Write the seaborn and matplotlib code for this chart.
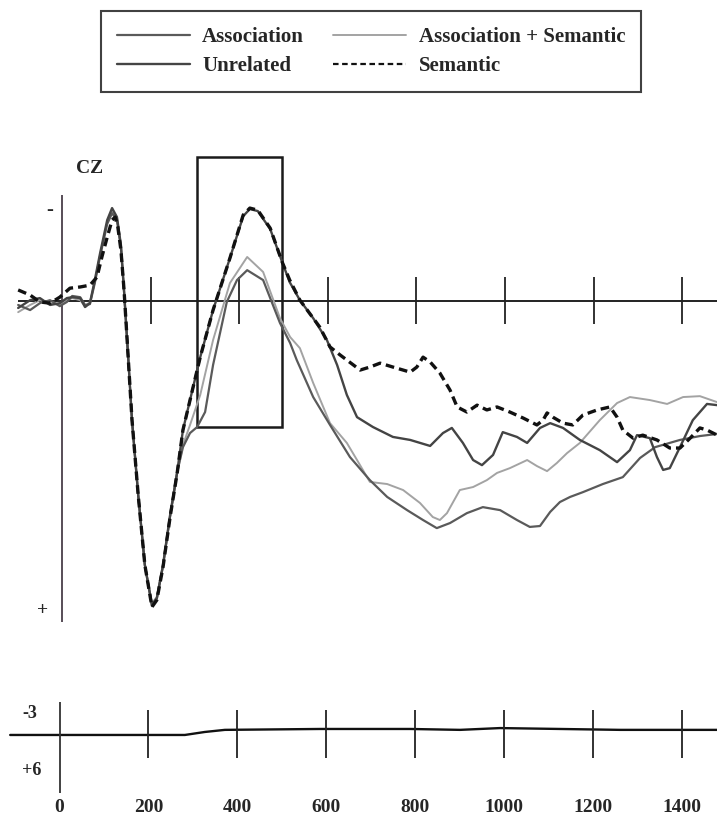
import numpy as np
import pandas as pd
import matplotlib.pyplot as plt
import seaborn as sns
from matplotlib.patches import Rectangle
from matplotlib.lines import Line2D

sns.set_theme(style="white")
plt.rcParams['font.family'] = ['Liberation Serif', 'DejaVu Serif']
plt.rcParams['font.weight'] = 'bold'

# ---- CZ waveforms (ms, microvolts; negative plotted up) ----
sem_t = [-99, -72, -50, -27, -5, 18, 41, 63, 79, 90, 102, 113, 120, 126, 133, 140, 147, 158, 172, 187,
         203, 214, 228, 244, 260, 273, 289, 312, 341, 379, 409, 424, 442, 470, 497, 514, 537, 582, 605, 628,
         673, 695, 718, 747, 786, 801, 815, 831, 853, 876, 892, 914, 937, 959, 982, 1011, 1041, 1072, 1086, 1095,
         1108, 1131, 1153, 1176, 1208, 1237, 1253, 1266, 1289, 1311, 1343, 1372, 1395, 1418, 1440, 1456, 1479]
sem_uv = [-0.37, -0.2, 0.03, 0.07, -0.13, -0.43, -0.47, -0.53, -0.8, -1.47, -2.13, -2.7, -2.8, -2.47, -1.7,
          -0.37, 1.3, 3.97, 6.47, 8.8, 10.2, 9.97, 8.87, 7.2, 5.73, 4.3, 3.3, 1.87, 0.3, -1.43,
          -2.87, -3.1, -3.03, -2.43, -1.3, -0.7, -0.03, 0.87, 1.53, 1.8, 2.3, 2.2, 2.07, 2.2, 2.37,
          2.2, 1.87, 2.03, 2.4, 2.97, 3.53, 3.7, 3.47, 3.63, 3.53, 3.7, 3.9, 4.13, 3.97, 3.73,
          3.87, 4.07, 4.13, 3.8, 3.63, 3.53, 3.87, 4.3, 4.57, 4.47, 4.63, 4.9, 4.9, 4.57, 4.23, 4.3, 4.47]

unrel_t = [-99, -72, -50, -27, -5, 11, 23, 41, 52, 63, 74, 86, 102, 113, 124, 133, 140, 147, 158, 172,
           187, 203, 214, 228, 244, 260, 273, 289, 312, 341, 379, 409, 424, 442, 470, 497, 514, 537, 567, 598,
           621, 643, 666, 702, 747, 786, 831, 860, 880, 905, 928, 948, 973, 995, 1027, 1050, 1079, 1102, 1131, 1169,
           1214, 1253, 1282, 1298, 1327, 1343, 1357, 1372, 1395, 1424, 1456, 1479]
unrel_uv = [0.23, -0.03, -0.1, 0.13, 0.07, -0.1, -0.13, -0.1, 0.2, 0.07, -0.7, -1.6, -2.7, -3.1, -2.8,
            -1.87, -0.37, 1.3, 3.97, 6.47, 8.8, 10.13, 9.9, 8.8, 7.13, 5.7, 4.3, 3.3, 1.87, 0.3,
            -1.43, -2.83, -3.07, -3.0, -2.4, -1.3, -0.63, -0.03, 0.57, 1.3, 2.13, 3.13, 3.87, 4.2, 4.53,
            4.63, 4.83, 4.4, 4.23, 4.73, 5.3, 5.47, 5.13, 4.37, 4.53, 4.73, 4.23, 4.07, 4.23, 4.63,
            4.97, 5.37, 4.97, 4.47, 4.57, 5.2, 5.63, 5.57, 4.87, 3.97, 3.43, 3.47]

assoc_sem_t = [-99, -72, -50, -27, -5, 11, 23, 41, 52, 63, 74, 86, 102, 113, 124, 133, 140, 147, 158, 172,
               187, 203, 214, 228, 244, 260, 273, 289, 312, 341, 379, 418, 454, 492, 515, 537, 567, 605, 643, 666,
               695, 734, 770, 808, 837, 853, 869, 898, 928, 959, 982, 1011, 1050, 1072, 1095, 1117, 1140, 1169, 1214, 1253,
               1282, 1327, 1366, 1402, 1440, 1479]
assoc_sem_uv = [0.37, 0.13, -0.03, 0.07, 0.13, -0.03, -0.1, -0.03, 0.17, 0.03, -0.63, -1.53, -2.63, -3.03, -2.77,
                -1.8, -0.3, 1.3, 3.97, 6.47, 8.8, 10.07, 9.87, 8.8, 7.2, 5.73, 4.8, 4.13, 3.13, 1.3,
                -0.6, -1.47, -0.97, 0.57, 1.2, 1.57, 2.73, 4.07, 4.73, 5.3, 6.03, 6.1, 6.3, 6.73, 7.2,
                7.3, 7.07, 6.3, 6.2, 5.97, 5.73, 5.57, 5.3, 5.5, 5.67, 5.4, 5.07, 4.73, 3.97, 3.4,
                3.2, 3.3, 3.43, 3.2, 3.17, 3.37]

assoc_t = [-99, -72, -50, -27, -5, 11, 23, 41, 52, 63, 74, 86, 102, 113, 124, 133, 140, 147, 158, 172,
           187, 203, 214, 228, 244, 260, 273, 289, 305, 323, 341, 372, 395, 418, 454, 492, 515, 530, 567, 605,
           650, 695, 734, 779, 815, 846, 876, 914, 950, 989, 1027, 1056, 1079, 1102, 1124, 1147, 1176, 1221, 1266, 1305,
           1339, 1395, 1440, 1479]
assoc_uv = [0.13, 0.3, 0.07, -0.03, 0.17, 0.03, -0.17, -0.13, 0.13, 0.1, -0.6, -1.5, -2.57, -2.93, -2.7,
            -1.77, -0.3, 1.3, 3.97, 6.47, 8.8, 10.17, 9.93, 8.83, 7.17, 5.7, 4.87, 4.4, 4.2, 3.7,
            2.13, 0.03, -0.7, -1.03, -0.7, 0.73, 1.4, 1.97, 3.2, 4.13, 5.2, 5.97, 6.53, 6.97, 7.3,
            7.57, 7.4, 7.07, 6.87, 6.97, 7.3, 7.53, 7.5, 7.03, 6.7, 6.53, 6.37, 6.1, 5.87, 5.23,
            4.87, 4.63, 4.5, 4.43]

# lower trace
diff_t = [-111, 0, 181, 282, 327, 372, 586, 789, 901, 991, 1126, 1261, 1479]
diff_uv = [0, 0, 0, 0, -0.1, -0.17, -0.2, -0.2, -0.17, -0.23, -0.2, -0.17, -0.17]

time_ticks = [200, 400, 600, 800, 1000, 1200, 1400]
tick_labels = ['0', '200', '400', '600', '800', '1000', '1200', '1400']
window_ms = [305, 497]
window_uv = [-4.8, 4.2]

conditions = ['Association + Semantic', 'Association', 'Unrelated', 'Semantic']
colors = {'Association + Semantic': '#a3a3a3', 'Association': '#5a5a5a',
          'Unrelated': '#444444', 'Semantic': '#111111'}
widths = {'Association + Semantic': 1.4, 'Association': 1.6, 'Unrelated': 1.7, 'Semantic': 2.4}
dashes = {'Association + Semantic': '', 'Association': '', 'Unrelated': '', 'Semantic': (2.6, 1.5)}

erp = pd.concat([
    pd.DataFrame({'time': assoc_sem_t, 'uv': assoc_sem_uv, 'condition': 'Association + Semantic'}),
    pd.DataFrame({'time': assoc_t, 'uv': assoc_uv, 'condition': 'Association'}),
    pd.DataFrame({'time': unrel_t, 'uv': unrel_uv, 'condition': 'Unrelated'}),
    pd.DataFrame({'time': sem_t, 'uv': sem_uv, 'condition': 'Semantic'}),
])

fig = plt.figure(figsize=(7.17, 8.18), dpi=100)
fig.patch.set_facecolor('white')

# upper panel
ax = fig.add_axes([0, 1 - 640 / 818, 1, 500 / 818])
sns.lineplot(data=erp, x='time', y='uv', hue='condition', style='condition', size='condition',
             hue_order=conditions, style_order=conditions, size_order=conditions,
             palette=colors, dashes=dashes, sizes=widths, estimator=None, legend=False, ax=ax)
ax.set_xlim(-140, 1478.6)
ax.set_ylim(11.3, -5.37)
ax.axis('off')

ax.hlines(0, -99, 1479, color='#222222', lw=1.4, zorder=1)
ax.vlines(0, -3.53, 10.7, color='#4a3f4a', lw=1.3, zorder=1)
ax.vlines(time_ticks, -0.8, 0.75, color='#222222', lw=1.3, zorder=1)
ax.add_patch(Rectangle((window_ms[0], window_uv[0]), window_ms[1] - window_ms[0],
                       window_uv[1] - window_uv[0], fill=False, ec='#1a1a1a', lw=1.8, zorder=1))
ax.text(-27, -3.03, '-', ha='center', va='center', fontsize=15, fontweight='bold')
ax.text(-43, 10.33, '+', ha='center', va='center', fontsize=14, fontweight='bold')
ax.text(63, -4.43, 'CZ', ha='center', va='center', fontsize=14, fontweight='bold')

# lower panel
ax2 = fig.add_axes([0, 0, 1, 128 / 818])
sns.lineplot(x=diff_t, y=diff_uv, color='#111111', lw=1.7, estimator=None, ax=ax2)
ax2.set_xlim(-133.9, 1479.2)
ax2.set_ylim(2.77, -1.5)
ax2.axis('off')
ax2.vlines(0, -1.1, 1.93, color='#333333', lw=1.3)
ax2.vlines(time_ticks, -0.83, 0.77, color='#222222', lw=1.3)
ax2.text(-66, -0.73, '-3', ha='center', va='center', fontsize=13, fontweight='bold')
ax2.text(-62, 1.17, '+6', ha='center', va='center', fontsize=13, fontweight='bold')
for tk, lab in zip([0] + time_ticks, tick_labels):
    ax2.text(tk, 2.43, lab, ha='center', va='center', fontsize=14, fontweight='bold')

# legend
order = ['Association', 'Unrelated', 'Association + Semantic', 'Semantic']
handles = [Line2D([], [], color=colors[c], lw=widths[c] if c != 'Semantic' else 1.6,
                  ls=(0, (2.5, 1.6)) if c == 'Semantic' else '-') for c in order]
leg = fig.legend(handles, order, ncol=2, loc='upper left', bbox_to_anchor=(0.141, 0.986),
                 borderaxespad=0, frameon=True, fancybox=False, edgecolor='#111111',
                 handlelength=3.5, handletextpad=0.6, columnspacing=1.4, labelspacing=0.45,
                 borderpad=0.75, prop={'weight': 'bold', 'size': 15})
leg.get_frame().set_linewidth(1.5)

fig.savefig('out.png', dpi=100, facecolor='white')
